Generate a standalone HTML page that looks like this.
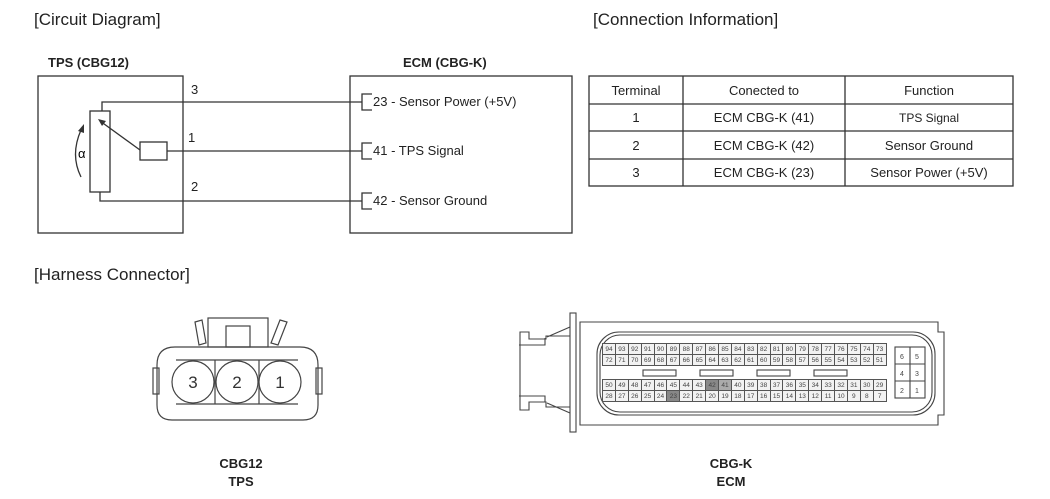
<!DOCTYPE html>
<html><head><meta charset="utf-8"><style>
body{margin:0;width:1050px;height:499px;background:#fff;position:relative;overflow:hidden;font-family:"Liberation Sans",sans-serif;color:#222}
.t{position:absolute;white-space:nowrap}
table.pins{position:absolute;border-collapse:collapse;table-layout:fixed}
table.pins td{width:11.9px;height:10px;border:1px solid #555;font-size:6.5px;text-align:center;padding:0;line-height:9px;color:#444;background:#f2f2f2}
table.pins td.d{background:#888}
table.pins td.m{background:#aaa}
</style></head><body>
<svg width="1050" height="499" style="position:absolute;left:0;top:0" font-family="Liberation Sans, sans-serif">
<g fill="none" stroke="#333" stroke-width="1.3">
<rect x="38" y="76" width="145" height="157"/>
<rect x="350" y="76" width="222" height="157"/>
<polyline points="102,111 102,102 362,102"/>
<rect x="90" y="111" width="20" height="81"/>
<polyline points="100,192 100,201 362,201"/>
<rect x="140" y="142" width="27" height="18"/>
<line x1="167" y1="151" x2="362" y2="151"/>
<line x1="140" y1="150" x2="100" y2="121"/>
<polyline points="372,94 362,94 362,110 372,110"/>
<polyline points="372,143 362,143 362,159 372,159"/>
<polyline points="372,193 362,193 362,209 372,209"/>
<path d="M81,177 Q70,155 81,130"/>
<rect x="589" y="76" width="424" height="110"/>
<line x1="683" y1="76" x2="683" y2="186"/><line x1="845" y1="76" x2="845" y2="186"/>
<line x1="589" y1="104" x2="1013" y2="104"/><line x1="589" y1="131" x2="1013" y2="131"/><line x1="589" y1="159" x2="1013" y2="159"/>
</g>
<polygon points="98,119 106,121 102,126" fill="#333"/>
<polygon points="78,131 84,124 84,133" fill="#333"/>
<text x="78" y="158" font-size="13">α</text>
<g font-size="13" fill="#222">
<text x="191" y="94">3</text><text x="188" y="142">1</text><text x="191" y="191">2</text>
<text x="373" y="106">23 - Sensor Power (+5V)</text>
<text x="373" y="155">41 - TPS Signal</text>
<text x="373" y="205">42 - Sensor Ground</text>
</g>
<g font-size="13" text-anchor="middle" fill="#222">
<text x="636" y="95">Terminal</text><text x="764" y="95">Conected to</text><text x="929" y="95">Function</text>
<text x="636" y="122">1</text><text x="764" y="122">ECM CBG-K (41)</text><text x="929" y="122" font-size="12">TPS Signal</text>
<text x="636" y="150">2</text><text x="764" y="150">ECM CBG-K (42)</text><text x="929" y="150">Sensor Ground</text>
<text x="636" y="177">3</text><text x="764" y="177">ECM CBG-K (23)</text><text x="929" y="177">Sensor Power (+5V)</text>
</g>
<!-- TPS connector -->
<g fill="none" stroke="#444" stroke-width="1.2">
<path d="M175,347 L300,347 Q318,347 318,365 L318,405 Q318,420 303,420 L172,420 Q157,420 157,405 L157,365 Q157,347 175,347 Z"/>
<rect x="208" y="318" width="60" height="29"/>
<rect x="226" y="326" width="24" height="21"/>
<path d="M195,322 L202,320 L206,343 L199,345 Z"/>
<path d="M280,320 L287,322 L278,345 L271,343 Z"/>
<rect x="153" y="368" width="6" height="26"/><rect x="316" y="368" width="6" height="26"/>
<line x1="176" y1="360" x2="298" y2="360"/><line x1="176" y1="404" x2="298" y2="404"/>
<line x1="215" y1="360" x2="215" y2="404"/><line x1="259" y1="360" x2="259" y2="404"/>
<circle cx="193" cy="382" r="21" fill="#fff"/><circle cx="237" cy="382" r="21" fill="#fff"/><circle cx="280" cy="382" r="21" fill="#fff"/>
</g>
<g font-size="17" text-anchor="middle" fill="#333"><text x="193" y="388">3</text><text x="237" y="388">2</text><text x="280" y="388">1</text></g>
<!-- ECM connector -->
<g fill="none" stroke="#444" stroke-width="1.1">
<rect x="570" y="313" width="6" height="119"/>
<path d="M580,322 L938,322 L938,332 L944,332 L944,415 L938,415 L938,425 L580,425 Z"/>
<rect x="597" y="332" width="338" height="83" rx="22"/>
<rect x="600" y="335" width="332" height="77" rx="20"/>
<path d="M570,336 L546,336 L546,339 L529,339 L529,332 L520,332 L520,410 L529,410 L529,402 L546,402 L546,407 L570,407"/>
<path d="M545,338 L545,345 L519,345"/><path d="M545,402 L545,396 L519,396"/>
<line x1="547" y1="337" x2="570" y2="327"/><line x1="547" y1="403" x2="570" y2="413"/>
<rect x="643" y="370" width="33" height="6"/><rect x="700" y="370" width="33" height="6"/><rect x="757" y="370" width="33" height="6"/><rect x="814" y="370" width="33" height="6"/>
<rect x="895" y="347" width="30" height="51"/>
<line x1="910" y1="347" x2="910" y2="398"/><line x1="895" y1="364" x2="925" y2="364"/><line x1="895" y1="381" x2="925" y2="381"/>
</g>
<g font-size="7" text-anchor="middle" fill="#444"><text x="902" y="359">6</text><text x="917" y="359">5</text><text x="902" y="376">4</text><text x="917" y="376">3</text><text x="902" y="393">2</text><text x="917" y="393">1</text></g>
</svg>
<table class="pins" style="left:602px;top:343px">
<tr><td>94</td><td>93</td><td>92</td><td>91</td><td>90</td><td>89</td><td>88</td><td>87</td><td>86</td><td>85</td><td>84</td><td>83</td><td>82</td><td>81</td><td>80</td><td>79</td><td>78</td><td>77</td><td>76</td><td>75</td><td>74</td><td>73</td></tr>
<tr><td>72</td><td>71</td><td>70</td><td>69</td><td>68</td><td>67</td><td>66</td><td>65</td><td>64</td><td>63</td><td>62</td><td>61</td><td>60</td><td>59</td><td>58</td><td>57</td><td>56</td><td>55</td><td>54</td><td>53</td><td>52</td><td>51</td></tr>
</table>
<table class="pins" style="left:602px;top:379px">
<tr><td>50</td><td>49</td><td>48</td><td>47</td><td>46</td><td>45</td><td>44</td><td>43</td><td class="d">42</td><td class="m">41</td><td>40</td><td>39</td><td>38</td><td>37</td><td>36</td><td>35</td><td>34</td><td>33</td><td>32</td><td>31</td><td>30</td><td>29</td></tr>
<tr><td>28</td><td>27</td><td>26</td><td>25</td><td>24</td><td class="d">23</td><td>22</td><td>21</td><td>20</td><td>19</td><td>18</td><td>17</td><td>16</td><td>15</td><td>14</td><td>13</td><td>12</td><td>11</td><td>10</td><td>9</td><td>8</td><td>7</td></tr>
</table>
<div class="t" style="left:34px;top:10px;font-size:17px">[Circuit Diagram]</div>
<div class="t" style="left:593px;top:10px;font-size:17px">[Connection Information]</div>
<div class="t" style="left:34px;top:265px;font-size:17px">[Harness Connector]</div>
<div class="t" style="left:48px;top:55px;font-size:13px;font-weight:bold">TPS (CBG12)</div>
<div class="t" style="left:403px;top:55px;font-size:13px;font-weight:bold">ECM (CBG-K)</div>
<div class="t" style="left:211px;top:455px;width:60px;text-align:center;font-size:13px;font-weight:bold;line-height:18px">CBG12<br>TPS</div>
<div class="t" style="left:701px;top:455px;width:60px;text-align:center;font-size:13px;font-weight:bold;line-height:18px">CBG-K<br>ECM</div>
</body></html>
